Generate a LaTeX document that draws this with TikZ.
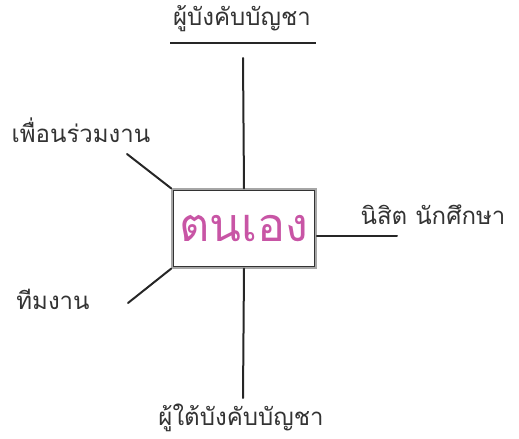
\documentclass[tikz,border=0pt]{standalone}
\usepackage{fontspec}
\newfontfamily\thaifont[Script=Thai]{Loma}
\definecolor{selfpink}{RGB}{200,85,165}
\tikzset{
  label/.style={font=\thaifont\fontsize{18}{21}\selectfont, text=black!80, inner sep=0pt},
  selfbox/.style={draw=gray!70, line width=1.2pt, minimum width=108pt, minimum height=59pt,
    font=\thaifont\fontsize{35}{40}\selectfont, text=selfpink, inner sep=0pt},
  link/.style={line width=1.5pt, black!85}
}
\begin{document}
\begin{tikzpicture}[x=0.75pt,y=-0.75pt,line cap=round]
		\useasboundingbox (0,0) rectangle (519,439);
		\node[selfbox] (self) at (244,228.5) {ตนเอง};
		\draw[black!80, line width=0.6pt] ([xshift=1.8pt,yshift=-1.8pt]self.north west) rectangle ([xshift=-1.8pt,yshift=1.8pt]self.south east);
		\node[label] (boss) at (242,19) {ผู้บังคับบัญชา};
		\node[label] (peer) at (81,130) {เพื่อนร่วมงาน};
		\node[label] (student) at (433,215) {นิสิต นักศึกษา};
		\node[label] (team) at (53,299) {ทีมงาน};
		\node[label] (sub) at (241,418) {ผู้ใต้บังคับบัญชา};
		% free ends of the connectors
		\coordinate (bosstip) at (243,58);
		\coordinate (peertip) at (127,154);
		\coordinate (studenttip) at (397,236);
		\coordinate (teamtip) at (128,303);
		\coordinate (subtip) at (243,398);
		\draw[link, line cap=butt] (170,43) -- (316,43);
		\draw[link] (self.north) -- (bosstip);
		\draw[link] (self.north west) -- (peertip);
		\draw[link] (self.east |- studenttip) -- (studenttip);
		\draw[link] (self.south west) -- (teamtip);
		\draw[link] (self.south) -- (subtip);
	\end{tikzpicture}
\end{document}
